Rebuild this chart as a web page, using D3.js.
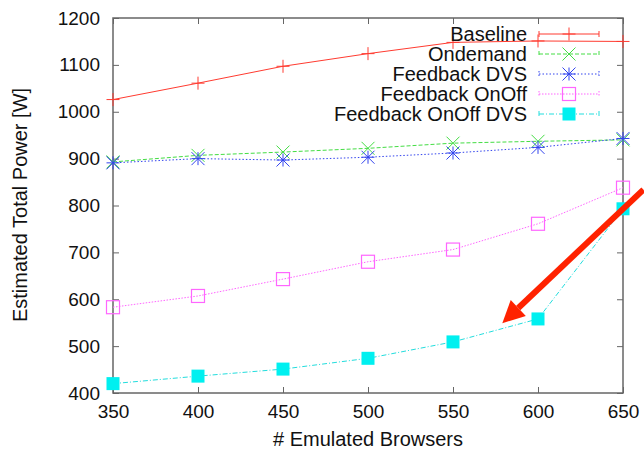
<!DOCTYPE html>
<html>
<head>
<meta charset="utf-8">
<script src="https://cdn.jsdelivr.net/npm/d3@7"></script>
<style>
  body { margin: 0; background: #fff; }
  text { font-family: "Liberation Sans", Arial, sans-serif; fill: #111; }
</style>
</head>
<body>
<svg id="chart" width="644" height="454"></svg>
<script>
let width = 644;
let height = 454;
let margin = {top: 18, right: 21, bottom: 61, left: 113};

// data
let browsers = [350, 400, 450, 500, 550, 600, 650];
let baseline = [1026, 1061, 1097, 1124, 1148, 1151, 1150];
let ondemand = [893, 907, 914, 922, 933, 937, 940];
let feedbackDvs = [891, 900, 897, 903, 912, 924, 943];
let feedbackOnOff = [583, 607, 643, 680, 706, 761, 838];
let feedbackOnOffDvs = [420, 436, 451, 474, 509, 558, 793];
let seriesNames = ["Baseline", "Ondemand", "Feedback DVS", "Feedback OnOff", "Feedback OnOff DVS"];
let xTicks = [350, 400, 450, 500, 550, 600, 650];
let yTicks = [400, 500, 600, 700, 800, 900, 1000, 1100, 1200];
// annotation arrow, in data units: [tail, head]
let arrowTail = [662, 834];
let arrowHead = [579, 549];

let series = [
  {name: seriesNames[0], values: baseline, color: "#ff3b30", dash: null, marker: "plus"},
  {name: seriesNames[1], values: ondemand, color: "#44dd44", dash: "4,2", marker: "cross"},
  {name: seriesNames[2], values: feedbackDvs, color: "#3344ee", dash: "1.5,2", marker: "star"},
  {name: seriesNames[3], values: feedbackOnOff, color: "#ff66ff", dash: "1.5,1.5", marker: "box"},
  {name: seriesNames[4], values: feedbackOnOffDvs, color: "#22dddd", dash: "5,2,1,2", marker: "fbox"}
];

let svg = d3.select("#chart");

let x = d3.scaleLinear().domain([350, 650]).range([margin.left, width - margin.right]);
let y = d3.scaleLinear().domain([400, 1200]).range([height - margin.bottom, margin.top]);

// axes with inward ticks on all four sides
let axisColor = "#666";
const styleAxis = (g) => {
  g.select(".domain").remove();
  g.selectAll(".tick line").attr("stroke", axisColor).attr("stroke-width", 1);
  g.selectAll(".tick text").style("font-size", "19px").attr("fill", "#111");
};

svg.append("g")
  .attr("transform", `translate(0,${height - margin.bottom})`)
  .call(d3.axisBottom(x).tickValues(xTicks).tickSize(-6).tickPadding(12).tickFormat(d3.format("d")))
  .call(styleAxis);

svg.append("g")
  .attr("transform", `translate(0,${margin.top})`)
  .call(d3.axisTop(x).tickValues(xTicks).tickSize(-6).tickFormat(""))
  .call(styleAxis);

svg.append("g")
  .attr("transform", `translate(${margin.left},0)`)
  .call(d3.axisLeft(y).tickValues(yTicks).tickSize(-6).tickPadding(13).tickFormat(d3.format("d")))
  .call(styleAxis);

svg.append("g")
  .attr("transform", `translate(${width - margin.right},0)`)
  .call(d3.axisRight(y).tickValues(yTicks).tickSize(-6).tickFormat(""))
  .call(styleAxis);

svg.append("rect")
  .attr("x", margin.left).attr("y", margin.top)
  .attr("width", width - margin.left - margin.right)
  .attr("height", height - margin.top - margin.bottom)
  .attr("fill", "none").attr("stroke", axisColor).attr("stroke-width", 1.5);

// axis titles
svg.append("text")
  .attr("x", 368)
  .attr("y", 446)
  .attr("text-anchor", "middle")
  .style("font-size", "20px")
  .text("# Emulated Browsers");

svg.append("text")
  .attr("transform", `translate(27,205) rotate(-90)`)
  .attr("text-anchor", "middle")
  .style("font-size", "20px")
  .text("Estimated Total Power [W]");

// marker drawing
const drawMarker = (g, type, color) => {
  let s = 6.5;
  if (type === "plus") {
    g.append("path").attr("d", `M${-s},0H${s}M0,${-s}V${s}`).attr("stroke", color).attr("stroke-width", 1).attr("fill", "none");
  } else if (type === "cross") {
    g.append("path").attr("d", `M${-s},${-s}L${s},${s}M${-s},${s}L${s},${-s}`).attr("stroke", color).attr("stroke-width", 1).attr("fill", "none");
  } else if (type === "star") {
    g.append("path").attr("d", `M${-s},0H${s}M0,${-s}V${s}M${-s},${-s}L${s},${s}M${-s},${s}L${s},${-s}`).attr("stroke", color).attr("stroke-width", 1).attr("fill", "none");
  } else if (type === "box") {
    g.append("rect").attr("x", -s).attr("y", -s).attr("width", 2 * s).attr("height", 2 * s).attr("stroke", color).attr("stroke-width", 1.2).attr("fill", "none");
  } else if (type === "fbox") {
    g.append("rect").attr("x", -s).attr("y", -s).attr("width", 2 * s).attr("height", 2 * s).attr("fill", "#00f0f0");
  }
};

let line = d3.line().x((d, i) => x(browsers[i])).y(d => y(d));

let plot = svg.append("g");
series.forEach(s => {
  plot.append("path")
    .datum(s.values)
    .attr("fill", "none")
    .attr("stroke", s.color)
    .attr("stroke-width", 1)
    .attr("stroke-dasharray", s.dash)
    .attr("d", line);

  plot.selectAll(null)
    .data(s.values)
    .enter()
    .append("g")
    .attr("transform", (d, i) => `translate(${x(browsers[i])},${y(d)})`)
    .each(function() { drawMarker(d3.select(this), s.marker, s.color); });
});

// legend
let legend = svg.append("g");
series.forEach((s, i) => {
  let ly = 34 + i * 20;
  legend.append("text")
    .attr("x", 527).attr("y", ly).attr("dy", "0.35em")
    .attr("text-anchor", "end")
    .style("font-size", "20px")
    .text(s.name);
  legend.append("path")
    .attr("d", `M539,${ly}H599M539,${ly - 3}V${ly + 3}M599,${ly - 3}V${ly + 3}`)
    .attr("stroke", s.color).attr("stroke-width", 1)
    .attr("stroke-dasharray", s.dash).attr("fill", "none");
  let m = legend.append("g").attr("transform", `translate(569,${ly})`);
  drawMarker(m, s.marker, s.color);
});

// red annotation arrow
let ax1 = x(arrowTail[0]), ay1 = y(arrowTail[1]);
let ax2 = x(arrowHead[0]), ay2 = y(arrowHead[1]);
let ang = Math.atan2(ay2 - ay1, ax2 - ax1);
let headLen = 22, headW = 11;
let bx = ax2 - headLen * Math.cos(ang), by = ay2 - headLen * Math.sin(ang);
svg.append("line")
  .attr("x1", ax1).attr("y1", ay1).attr("x2", bx).attr("y2", by)
  .attr("stroke", "#ff2200").attr("stroke-width", 6);
svg.append("path")
  .attr("d", `M${ax2},${ay2}L${bx - headW * Math.sin(ang)},${by + headW * Math.cos(ang)}L${bx + headW * Math.sin(ang)},${by - headW * Math.cos(ang)}Z`)
  .attr("fill", "#ff2200");
</script>
</body>
</html>
